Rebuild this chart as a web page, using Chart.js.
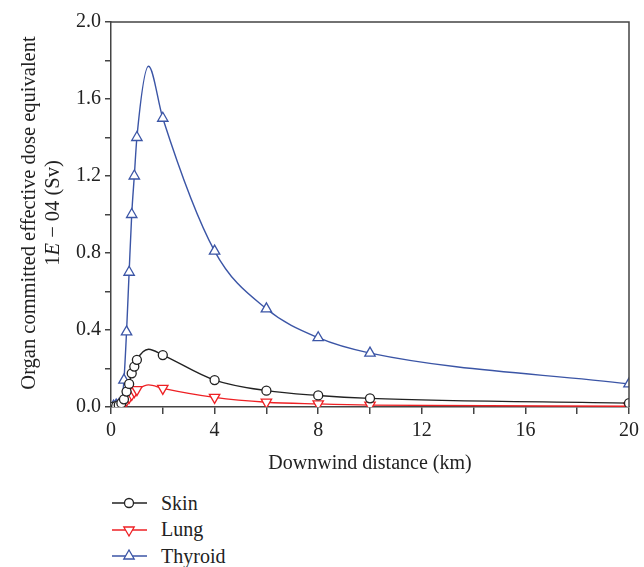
<!DOCTYPE html>
<html>
<head>
<meta charset="utf-8">
<script src="https://cdn.jsdelivr.net/npm/chart.js@4.4.1/dist/chart.umd.min.js"></script>
<style>
  body { margin: 0; background: #fff; font-family: "Liberation Serif", "DejaVu Serif", serif; color: #222; }
  #wrap { position: relative; width: 644px; height: 567px; }
  #myChart { position: absolute; left: 0; top: 0; }
  #ytitle {
    position: absolute; left: 40px; top: 213px; width: 440px;
    transform: translate(-50%, -50%) rotate(-90deg);
    text-align: center; font-size: 20.5px; line-height: 24px; white-space: nowrap;
  }
  #legend { position: absolute; left: 112px; top: 490px; font-size: 20px; }
  .row { height: 26.5px; display: flex; align-items: center; }
  .row svg { margin-right: 14px; }
</style>
</head>
<body>
<div id="wrap">
  <canvas id="myChart" width="644" height="480"></canvas>
  <div id="ytitle">Organ committed effective dose equivalent<br>1<i>E</i> &minus; 04 (Sv)</div>
  <div id="legend"></div>
</div>
<script>
// Data (dose in 1E-04 Sv)
var distanceKm = [0.1, 0.2, 0.3, 0.4, 0.5, 0.6, 0.7, 0.8, 0.9, 1.0, 1.45, 2, 4, 6, 8, 10, 20];
var peakKm = 1.45; // curve maximum, no marker drawn there
var skinDose = [0.002, 0.005, 0.01, 0.02, 0.04, 0.08, 0.12, 0.175, 0.21, 0.245, 0.30, 0.27, 0.14, 0.085, 0.06, 0.045, 0.02];
var lungDose = [0.001, 0.002, 0.004, 0.008, 0.02, 0.035, 0.05, 0.065, 0.08, 0.09, 0.115, 0.097, 0.05, 0.025, 0.016, 0.01, 0.004];
var thyroidDose = [0.005, 0.01, 0.012, 0.02, 0.14, 0.39, 0.70, 1.00, 1.20, 1.40, 1.77, 1.50, 0.81, 0.51, 0.36, 0.28, 0.12];

var FONT = "'Liberation Serif', 'DejaVu Serif', serif";
var AXIS = "#444";

function toPoints(values) {
    var pts = [];
    for (var i = 0; i < distanceKm.length; i++) {
        pts.push({ x: distanceKm[i], y: values[i] });
    }
    return pts;
}

function makeSeries(label, values, color, style, size, rotation) {
    return {
        label: label,
        data: toPoints(values),
        borderColor: color,
        borderWidth: 1.4,
        pointStyle: style,
        pointRotation: rotation,
        pointRadius: function(ctx) { return distanceKm[ctx.dataIndex] === peakKm ? 0 : size; },
        pointBorderColor: color,
        pointBackgroundColor: "#fff",
        pointBorderWidth: 1.3,
        cubicInterpolationMode: "monotone",
        fill: false
    };
}

var datasets = [
    makeSeries("Skin", skinDose, "#222", "circle", 4.5, 0),
    makeSeries("Lung", lungDose, "#ee2024", "triangle", 6, 180),
    makeSeries("Thyroid", thyroidDose, "#3b55a6", "triangle", 6, 0)
];

// top and right edges of the box
var frame = {
    id: "frame",
    afterDraw: function(chart) {
        var a = chart.chartArea, c = chart.ctx;
        c.save();
        c.strokeStyle = AXIS;
        c.lineWidth = 1.5;
        c.beginPath();
        c.moveTo(a.left, a.top);
        c.lineTo(a.right, a.top);
        c.lineTo(a.right, a.bottom);
        c.stroke();
        c.restore();
    }
};

var myChart = new Chart(document.getElementById("myChart"), {
    type: "line",
    data: { datasets: datasets },
    plugins: [frame],
    options: {
        responsive: false,
        animation: false,
        layout: { padding: { top: 22, right: 10, left: 0, bottom: 0 } },
        plugins: { legend: { display: false }, tooltip: { enabled: false } },
        scales: {
            x: {
                type: "linear", min: 0, max: 20,
                afterFit: function(scale) { scale.height = 73; },
                ticks: {
                    stepSize: 2, autoSkip: false, maxRotation: 0, padding: 5,
                    color: "#222", font: { family: FONT, size: 20 },
                    callback: function(v) { return v % 4 === 0 ? v : ""; }
                },
                grid: { drawOnChartArea: false, tickLength: 7, color: AXIS, lineWidth: 1.5 },
                border: { color: AXIS, width: 1.5 },
                title: {
                    display: true, text: "Downwind distance (km)", color: "#222",
                    font: { family: FONT, size: 20 }, padding: { top: 4, bottom: 4 }
                }
            },
            y: {
                min: 0, max: 2,
                afterFit: function(scale) { scale.width = 111; },
                ticks: {
                    stepSize: 0.2, autoSkip: false, padding: 4,
                    color: "#222", font: { family: FONT, size: 20 },
                    callback: function(v) { return Math.round(v * 10) % 4 === 0 ? v.toFixed(1) : ""; }
                },
                grid: { drawOnChartArea: false, tickLength: 6, color: AXIS, lineWidth: 1.5 },
                border: { color: AXIS, width: 1.5 }
            }
        }
    }
});

// legend as html rows under the chart
function legendRow(ds) {
    var row = document.createElement("div");
    row.className = "row";
    var c = ds.borderColor;
    var mark;
    if (ds.pointStyle === "circle") {
        mark = '<circle cx="17" cy="8" r="4.5" fill="#fff" stroke="' + c + '" stroke-width="1.3"/>';
    } else if (ds.pointRotation === 180) {
        mark = '<polygon points="11.8,5 22.2,5 17,14" fill="#fff" stroke="' + c + '" stroke-width="1.3"/>';
    } else {
        mark = '<polygon points="11.8,11 22.2,11 17,2" fill="#fff" stroke="' + c + '" stroke-width="1.3"/>';
    }
    row.innerHTML = '<svg width="35" height="16"><line x1="0" y1="8" x2="35" y2="8" stroke="' + c +
        '" stroke-width="1.4"/>' + mark + '</svg><span>' + ds.label + '</span>';
    return row;
}

var legend = document.getElementById("legend");
for (var i = 0; i < datasets.length; i++) {
    legend.appendChild(legendRow(datasets[i]));
}
</script>
</body>
</html>
